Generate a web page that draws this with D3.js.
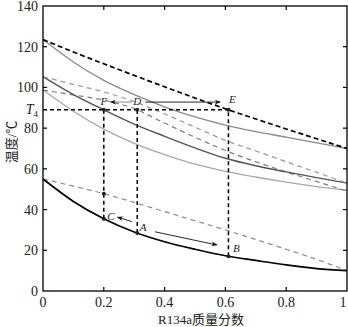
<!DOCTYPE html>
<html>
<head>
<meta charset="utf-8">
<script src="https://cdn.jsdelivr.net/npm/d3@7"></script>
<style>
  html, body { margin: 0; padding: 0; background: #fff; }
  svg { display: block; }
  text { font-family: "Liberation Serif", "DejaVu Serif", serif; fill: #222; }
  .cjk { font-family: "Liberation Serif", "Noto Sans CJK SC", serif; }
</style>
</head>
<body>
<svg id="chart" width="348" height="327"></svg>
<script>
// R134a mass fraction grid
const comp = [0, 0.1, 0.2, 0.3, 0.4, 0.5, 0.6, 0.7, 0.8, 0.9, 1];

// High pressure: dew line and bubble line
const highDew = [123.5, 117.4, 111.6, 105.9, 100.3, 94.8, 89.5, 84.5, 79.6, 74.8, 70];
const highBub = [123.5, 112.5, 103.5, 96.5, 90.5, 85.5, 81.5, 78.3, 75.6, 72.8, 70];
// Intermediate pressure 1
const mid1Dew = [105.3, 101.5, 97.8, 93, 87, 80.5, 74, 68.8, 63.5, 58.3, 53];
const mid1Bub = [105.3, 96.5, 89, 82, 76, 70.3, 65.2, 61.5, 58.5, 55.7, 53];
// Intermediate pressure 2
const mid2Dew = [98.7, 96.3, 93.8, 89.6, 82.5, 75.5, 69, 63.5, 58.5, 53.8, 49.1];
const mid2Bub = [98.7, 88.3, 79.5, 72.5, 67, 62.3, 58.8, 56, 53.5, 51.3, 49.5];
// Low pressure
const lowDew = [55, 51.5, 47.8, 43.5, 39, 34.5, 30, 25.3, 20.5, 15.5, 10];
const lowBub = [55, 44, 35.5, 29, 24.2, 20.5, 17.3, 15, 12.8, 11, 10];

const T4 = 89;

// State points
const stateNames = ["C", "A", "B", "F", "D", "E", ""];
const stateX     = [0.2, 0.31, 0.61, 0.2, 0.31, 0.61, 0.2];
const stateT     = [35.5, 28.5, 17.1, T4, T4, T4, 47.8];

// Process arrows: [x1, t1, x2, t2]
const arrows = [
  [0.292, 92.8, 0.222, 92.8],
  [0.336, 92.8, 0.583, 92.8],
  [0.292, 34.1, 0.245, 36.3],
  [0.368, 29.1, 0.572, 22.6]
];

const xTicks = [0, 0.2, 0.4, 0.6, 0.8, 1];
const xTickLabels = ["0", "0.2", "0.4", "0.6", "0.8", "1"];
const yTicks = [0, 20, 40, 60, 80, 100, 120, 140];

const svg = d3.select("#chart");
const L = 43, R = 347, T = 6, B = 291;

const x = d3.scaleLinear().domain([0, 1]).range([L, R]);
const y = d3.scaleLinear().domain([0, 140]).range([B, T]);

const line = d3.line()
  .x((d, i) => x(comp[i]))
  .y(d => y(d))
  .curve(d3.curveMonotoneX);

const series = [
  { v: lowDew,  stroke: "#8c8c8c", w: 1.2, dash: "5,4" },
  { v: mid2Bub, stroke: "#a8a8a8", w: 1.3, dash: null },
  { v: mid2Dew, stroke: "#7a7a7a", w: 1.2, dash: "5,4" },
  { v: mid1Bub, stroke: "#555",    w: 1.4, dash: null },
  { v: mid1Dew, stroke: "#9a9a9a", w: 1.2, dash: "5,4" },
  { v: highBub, stroke: "#8a8a8a", w: 1.3, dash: null },
  { v: highDew, stroke: "#000",    w: 1.7, dash: "5,3" },
  { v: lowBub,  stroke: "#000",    w: 1.7, dash: null }
];

const gLines = svg.append("g");
series.forEach(s => {
  gLines.append("path")
    .attr("d", line(s.v))
    .attr("fill", "none")
    .attr("stroke", s.stroke)
    .attr("stroke-width", s.w)
    .attr("stroke-dasharray", s.dash);
});

// Construction lines: isotherm T4 and verticals from low-pressure states
const gCon = svg.append("g")
  .attr("stroke", "#000").attr("stroke-width", 1.5)
  .attr("stroke-dasharray", "4,3").attr("fill", "none");
gCon.append("line")
  .attr("x1", x(0)).attr("x2", x(stateX[2]))
  .attr("y1", y(T4)).attr("y2", y(T4));
[0, 1, 2].forEach(i => {
  gCon.append("line")
    .attr("x1", x(stateX[i])).attr("x2", x(stateX[i]))
    .attr("y1", y(stateT[i])).attr("y2", y(T4));
});

// Arrow marker
const defs = svg.append("defs");
defs.append("marker")
  .attr("id", "ah").attr("viewBox", "0 0 10 10")
  .attr("refX", 9).attr("refY", 5)
  .attr("markerWidth", 7).attr("markerHeight", 6)
  .attr("markerUnits", "userSpaceOnUse")
  .attr("orient", "auto")
  .append("path").attr("d", "M0,1 L10,5 L0,9 L3,5 Z").attr("fill", "#111");

arrows.forEach((a, i) => {
  svg.append("line")
    .attr("x1", x(a[0])).attr("y1", y(a[1]))
    .attr("x2", x(a[2])).attr("y2", y(a[3]))
    .attr("stroke", i === 0 ? "#777" : "#111")
    .attr("stroke-width", 0.9)
    .attr("marker-end", "url(#ah)");
});

// State point dots
svg.append("g").selectAll("circle")
  .data(stateX)
  .join("circle")
  .attr("cx", d => x(d))
  .attr("cy", (d, i) => y(stateT[i]))
  .attr("r", 2)
  .attr("fill", "#222");

// State labels
const labelOffset = { C: [7, 1], A: [6, -2], B: [8, -4], F: [0, -5], D: [0, -5], E: [4, -7] };
stateNames.forEach((n, i) => {
  if (!n) return;
  const o = labelOffset[n];
  svg.append("text")
    .attr("x", x(stateX[i]) + o[0])
    .attr("y", y(stateT[i]) + o[1])
    .attr("text-anchor", "middle")
    .attr("font-style", "italic")
    .attr("font-size", 11)
    .attr("fill", "#333")
    .text(n);
});

// Frame
svg.append("rect")
  .attr("x", L).attr("y", T).attr("width", R - L).attr("height", B - T)
  .attr("fill", "none").attr("stroke", "#000").attr("stroke-width", 1.3);

// Inward ticks on all sides
const tk = 4;
const gT = svg.append("g").attr("stroke", "#000").attr("stroke-width", 1.2);
xTicks.slice(1, -1).forEach(t => {
  gT.append("line").attr("x1", x(t)).attr("x2", x(t)).attr("y1", B).attr("y2", B - tk);
  gT.append("line").attr("x1", x(t)).attr("x2", x(t)).attr("y1", T).attr("y2", T + tk);
});
yTicks.slice(1, -1).forEach(t => {
  gT.append("line").attr("x1", L).attr("x2", L + tk).attr("y1", y(t)).attr("y2", y(t));
  gT.append("line").attr("x1", R).attr("x2", R - tk).attr("y1", y(t)).attr("y2", y(t));
});

// Tick labels (the last one kept inside the canvas edge)
svg.append("g").selectAll("text")
  .data(xTicks)
  .join("text")
  .attr("x", d => Math.min(x(d), 343))
  .attr("y", 307)
  .attr("text-anchor", "middle")
  .attr("font-size", 14)
  .text((d, i) => xTickLabels[i]);

svg.append("g").selectAll("text")
  .data(yTicks)
  .join("text")
  .attr("x", 38)
  .attr("y", d => y(d) + 5)
  .attr("text-anchor", "end")
  .attr("font-size", 14)
  .text(d => d);

const t4 = svg.append("text")
  .attr("x", 38).attr("y", y(T4) + 4)
  .attr("text-anchor", "end")
  .attr("font-size", 14);
t4.append("tspan").attr("font-style", "italic").text("T");
t4.append("tspan").attr("font-size", 9).attr("dy", 3).text("4");

// Axis titles
svg.append("text")
  .attr("class", "cjk")
  .attr("x", 201).attr("y", 324)
  .attr("text-anchor", "middle")
  .attr("font-size", 13)
  .text("R134a质量分数");

svg.append("text")
  .attr("class", "cjk")
  .attr("transform", "translate(16,142) rotate(-90)")
  .attr("text-anchor", "middle")
  .attr("font-size", 13)
  .text("温度/℃");
</script>
</body>
</html>
